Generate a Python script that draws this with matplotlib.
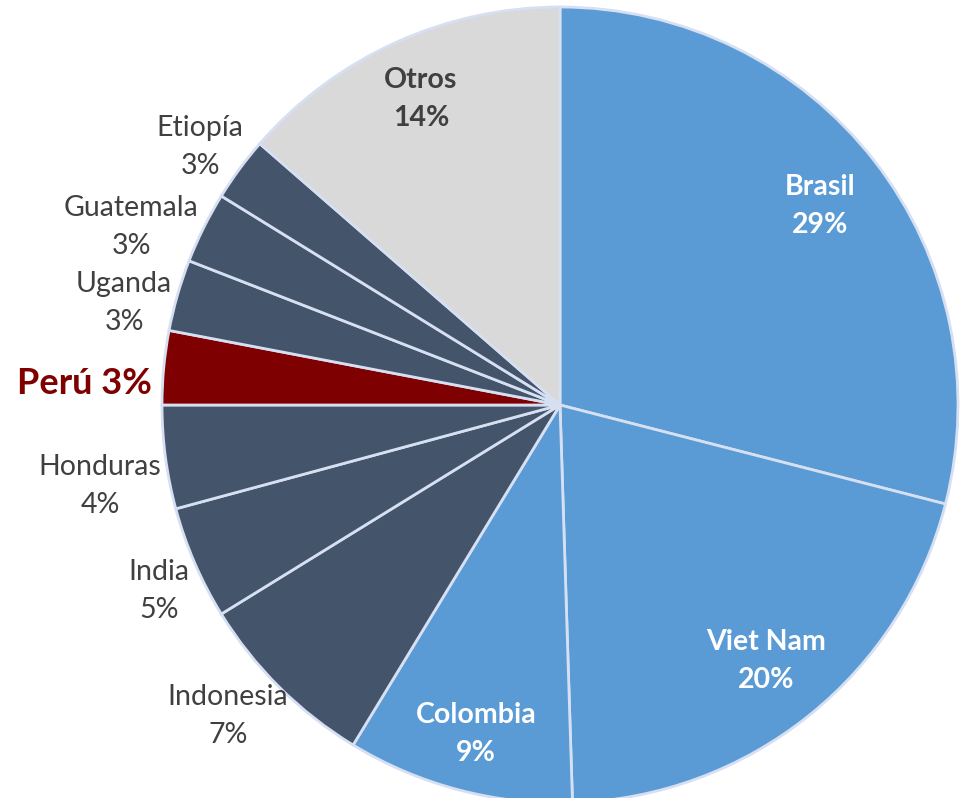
import matplotlib
matplotlib.use("Agg")
import matplotlib.pyplot as plt

# Data (clockwise from 12 o'clock)
countries = ["Brasil", "Viet Nam", "Colombia", "Indonesia", "India", "Honduras",
             "Perú", "Uganda", "Guatemala", "Etiopía", "Otros"]
shares = [29.0, 20.5, 9.2, 7.5, 4.6, 4.2, 3.0, 2.9, 2.9, 2.6, 13.6]
pct_labels = ["29%", "20%", "9%", "7%", "5%", "4%", "3%", "3%", "3%", "3%", "14%"]

BLUE = "#5B9BD5"
DARK = "#44546A"
RED = "#7F0000"
GRAY = "#D9D9D9"
TXT = "#404040"
slice_colors = [BLUE, BLUE, BLUE, DARK, DARK, DARK, RED, DARK, DARK, DARK, GRAY]

plt.rcParams['font.family'] = ['Lato', 'DejaVu Sans']

W, H = 963, 798
fig = plt.figure(figsize=(W / 100, H / 100), dpi=100)
ax = fig.add_axes([0, 0, 1, 1])

cx, cy, r = 560, H - 405, 398
ax.pie(shares, colors=slice_colors, startangle=90, counterclock=False,
       center=(cx, cy), radius=r,
       wedgeprops=dict(edgecolor="#D6E0F2", linewidth=2))
ax.set_xlim(0, W)
ax.set_ylim(0, H)
ax.set_aspect('equal')
ax.axis('off')

# label positions in pixel coords (x, y from top)
pos = {
    "Brasil": (820, 206), "Viet Nam": (766, 661), "Colombia": (476, 734),
    "Indonesia": (228, 716), "India": (159, 591), "Honduras": (100, 486),
    "Uganda": (124, 303), "Guatemala": (131, 227), "Etiopía": (200, 147),
    "Otros": (421, 99),
}
inside_white = {"Brasil", "Viet Nam", "Colombia"}
for name, pct in zip(countries, pct_labels):
    if name == "Perú":
        ax.text(84, H - 383, f"{name} {pct}", ha="center", va="center",
                fontsize=26, fontweight="bold", color=RED)
        continue
    x, y = pos[name]
    if name in inside_white:
        col, wt = "white", "bold"
    elif name == "Otros":
        col, wt = TXT, "bold"
    else:
        col, wt = TXT, "normal"
    ax.text(x, H - y, f"{name}\n{pct}", ha="center", va="center",
            fontsize=20.5, fontweight=wt, color=col, linespacing=1.6)

fig.savefig("out.png", dpi=100)
